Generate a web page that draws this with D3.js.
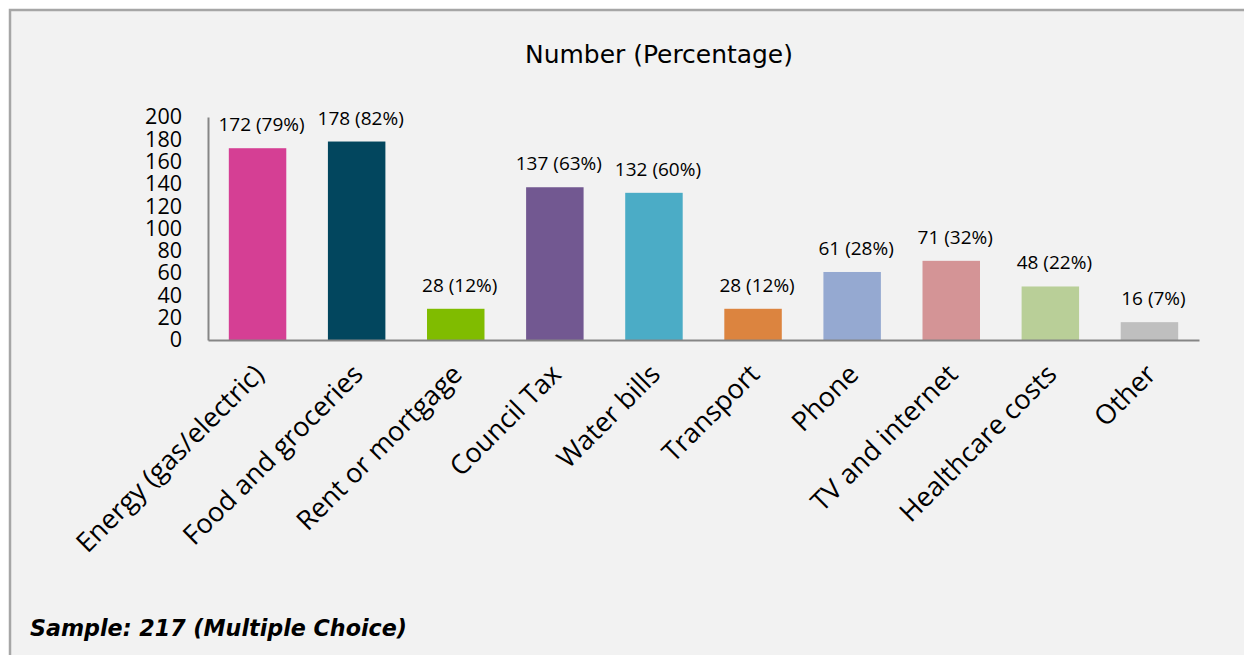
<!DOCTYPE html>
<html>
<head>
<meta charset="utf-8">
<script src="https://cdn.jsdelivr.net/npm/d3@7"></script>
<style>
  html, body { margin: 0; padding: 0; background: #ffffff; }
  svg { display: block; }
</style>
</head>
<body>
<svg id="chart" width="1244" height="655"></svg>
<script>
const categories = ["Energy (gas/electric)", "Food and groceries", "Rent or mortgage", "Council Tax", "Water bills", "Transport", "Phone", "TV and internet", "Healthcare costs", "Other"];
const counts = [172, 178, 28, 137, 132, 28, 61, 71, 48, 16];
const percents = [79, 82, 12, 63, 60, 12, 28, 32, 22, 7];
const colors = ["#D53F94", "#02465E", "#80BC00", "#725891", "#4BACC6", "#DC843F", "#95A9D1", "#D49496", "#B9CF98", "#BFBFBF"];
const yTicks = [0, 20, 40, 60, 80, 100, 120, 140, 160, 180, 200];
const title = "Number (Percentage)";
const footnote = "Sample: 217 (Multiple Choice)";

const svg = d3.select("#chart");
const W = 1244, H = 655;

// frame
svg.append("rect").attr("x", 10).attr("y", 10).attr("width", W + 10).attr("height", H + 10)
  .attr("fill", "#F2F2F2").attr("stroke", "#A6A6A6").attr("stroke-width", 2.5);

const plotLeft = 208, plotRight = 1199, plotTop = 117, plotBottom = 340;
const x = d3.scaleBand().domain(categories).range([plotLeft, plotRight]).paddingInner(0.42).paddingOuter(0.21);
const y = d3.scaleLinear().domain([0, 200]).range([plotBottom, plotTop]);

function fitWidth(sel, target) {
  const w = sel.node().getComputedTextLength();
  const fs = parseFloat(sel.attr("font-size"));
  if (w > 0) sel.attr("font-size", fs * target / w);
}

// title
const titleText = svg.append("text").attr("x", 659).attr("y", 63).attr("text-anchor", "middle")
  .attr("font-family", "DejaVu Sans").attr("font-size", 22).attr("fill", "#000").text(title);
fitWidth(titleText, 268);

// bars
const data = categories.map((c, i) => ({c, v: counts[i], p: percents[i], col: colors[i]}));
svg.append("g").selectAll("rect").data(data).join("rect")
  .attr("x", d => x(d.c)).attr("width", x.bandwidth())
  .attr("y", d => y(d.v)).attr("height", d => y(0) - y(d.v))
  .attr("fill", d => d.col);

// value labels
svg.append("g").selectAll("text").data(data).join("text")
  .attr("x", d => x(d.c) + x.bandwidth() / 2 + 4)
  .attr("y", d => y(d.v) - 17)
  .attr("text-anchor", "middle")
  .attr("font-family", "Open Sans").attr("font-size", 19).attr("fill", "#000")
  .text(d => `${d.v} (${d.p}%)`);

// y axis
const yAxis = svg.append("g").attr("transform", `translate(${plotLeft},0)`)
  .call(d3.axisLeft(y).tickValues(yTicks).tickSize(0).tickPadding(26));
yAxis.select(".domain").attr("stroke", "#868686").attr("stroke-width", 2);
yAxis.selectAll("text").attr("font-family", "Open Sans").attr("font-size", 21.5).attr("fill", "#000");

// x axis
const xAxis = svg.append("g").attr("transform", `translate(0,${plotBottom})`)
  .call(d3.axisBottom(x).tickSize(0).tickFormat(""));
xAxis.select(".domain").attr("stroke", "#868686").attr("stroke-width", 2);

// category labels
svg.append("g").selectAll("text").data(categories).join("text")
  .attr("transform", d => `translate(${x(d) + x.bandwidth() / 2 + 8},${plotBottom + 36}) rotate(-45)`)
  .attr("text-anchor", "end")
  .attr("font-family", "Open Sans").attr("font-size", 27).attr("fill", "#000")
  .text(d => d);

// footnote
const foot = svg.append("text").attr("x", 30).attr("y", 636)
  .attr("font-family", "DejaVu Sans").attr("font-style", "italic").attr("font-weight", "bold")
  .attr("font-size", 22).attr("fill", "#000").text(footnote);
fitWidth(foot, 377);
</script>
</body>
</html>
